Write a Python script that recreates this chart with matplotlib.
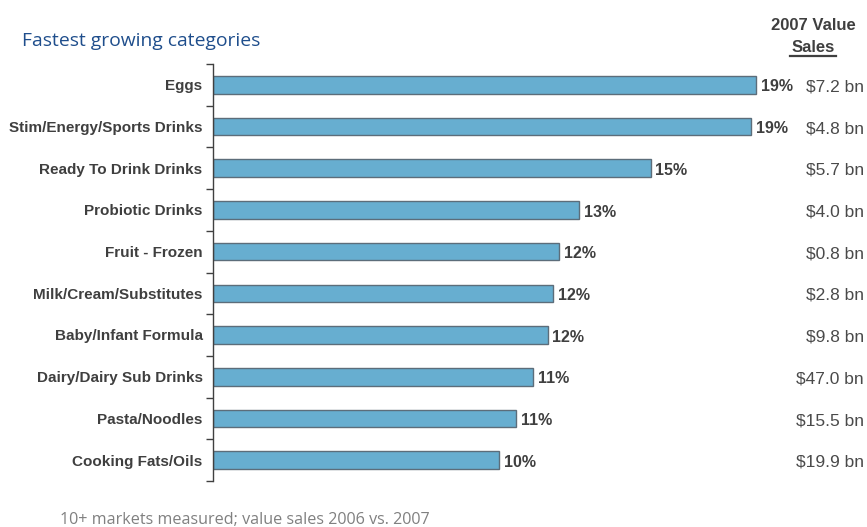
import matplotlib
matplotlib.use("Agg")
import matplotlib.pyplot as plt
from matplotlib.lines import Line2D

categories = ["Eggs", "Stim/Energy/Sports Drinks", "Ready To Drink Drinks", "Probiotic Drinks",
              "Fruit - Frozen", "Milk/Cream/Substitutes", "Baby/Infant Formula",
              "Dairy/Dairy Sub Drinks", "Pasta/Noodles", "Cooking Fats/Oils"]
growth = [19.0, 18.8, 15.3, 12.8, 12.1, 11.9, 11.7, 11.2, 10.6, 10.0]
growth_labels = ["19%", "19%", "15%", "13%", "12%", "12%", "12%", "11%", "11%", "10%"]
sales_labels = ["$7.2 bn", "$4.8 bn", "$5.7 bn", "$4.0 bn", "$0.8 bn", "$2.8 bn",
                "$9.8 bn", "$47.0 bn", "$15.5 bn", "$19.9 bn"]

W, H = 867, 527
fig = plt.figure(figsize=(W / 100, H / 100), dpi=100)
ax_left, ax_right = 213, 800
ax_top, ax_bot = 64, 481
ax = fig.add_axes([ax_left / W, 1 - ax_bot / H, (ax_right - ax_left) / W, (ax_bot - ax_top) / H])

pos = list(range(len(categories)))
ax.barh(pos, growth, height=0.42, color="#67aed0", edgecolor="#5c6d7a", linewidth=1.0)
ax.set_ylim(len(categories) - 0.5, -0.5)
ax.set_xlim(0, 587 / 28.6)

for s in ["top", "right", "bottom"]:
    ax.spines[s].set_visible(False)
ax.spines["left"].set_color("#404040")
ax.spines["left"].set_linewidth(1.0)
ax.set_xticks([])
ax.set_yticks([p - 0.5 for p in pos] + [len(pos) - 0.5])
ax.set_yticklabels([])
ax.tick_params(axis="y", length=5, width=1, color="#404040", direction="out")

txt = "#3f3f3f"
for p, c in zip(pos, categories):
    ax.annotate(c, xy=(0, p), xycoords=("axes fraction", "data"), xytext=(-7.5, -1),
                textcoords="offset points", ha="right", va="center",
                fontsize=11, fontweight="bold", color=txt, family="Liberation Sans")
for p, g, gl in zip(pos, growth, growth_labels):
    ax.annotate(gl, xy=(g, p), xytext=(3.5, -1.5), textcoords="offset points",
                ha="left", va="center", fontsize=11.5, fontweight="bold", color=txt,
                family="Liberation Sans")
for p, sl in zip(pos, sales_labels):
    ax.annotate(sl, xy=(864 / W, p), xycoords=("figure fraction", "data"),
                xytext=(0, -1.5), textcoords="offset points",
                ha="right", va="center", fontsize=12.5, color="#4a4a4a",
                family="Liberation Sans")

fig.text(22 / W, 1 - 41 / H, "Fastest growing categories", ha="left", va="center",
         fontsize=13.9, color="#1f4e8c", family="Open Sans")
fig.text(813 / W, 1 - 25 / H, "2007 Value", ha="center", va="center", fontsize=12,
         fontweight="bold", color=txt, family="Liberation Sans")
fig.text(813 / W, 1 - 47 / H, "Sales", ha="center", va="center", fontsize=12,
         fontweight="bold", color=txt, family="Liberation Sans")
fig.add_artist(Line2D([790 / W, 836 / W], [1 - 56 / H, 1 - 56 / H], color=txt,
                      linewidth=1.6, transform=fig.transFigure))
fig.text(60 / W, 1 - 520 / H, "10+ markets measured; value sales 2006 vs. 2007",
         ha="left", va="center", fontsize=11.6, color="#808080", family="Open Sans")

fig.savefig("out.png", dpi=100)
